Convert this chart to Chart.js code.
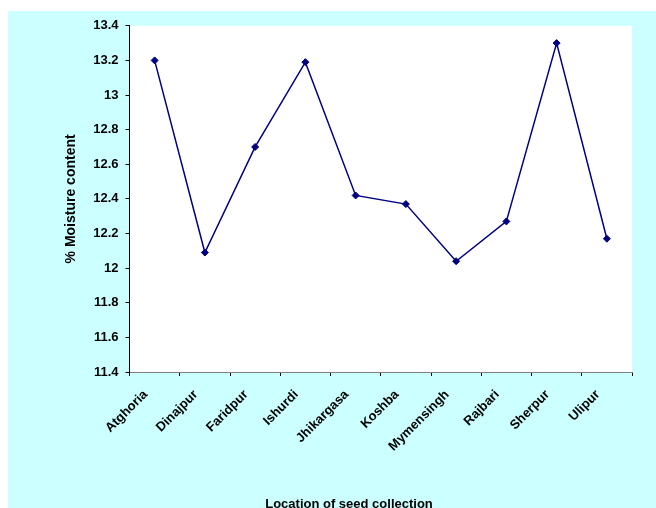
<!DOCTYPE html>
<html>
<head>
<meta charset="utf-8">
<title>% Moisture content by location of seed collection</title>
<script src="https://cdn.jsdelivr.net/npm/chart.js@4/dist/chart.umd.min.js"></script>
<style>
  html, body { margin: 0; padding: 0; background: #ffffff; }
  #frame {
    position: absolute;
    left: 8px;
    top: 11px;
    width: 648px;
    height: 497px;
    background: #ccffff;
    overflow: hidden;
  }
  #chart { display: block; }
</style>
</head>
<body>
<div id="frame"><canvas id="chart" width="648" height="497"></canvas></div>
<script>
// Seed collection sites and their moisture content (%)
const locations = ['Atghoria', 'Dinajpur', 'Faridpur', 'Ishurdi', 'Jhikargasa',
                   'Koshba', 'Mymensingh', 'Rajbari', 'Sherpur', 'Ulipur'];
const moisture = [13.2, 12.09, 12.7, 13.19, 12.42, 12.37, 12.04, 12.27, 13.3, 12.17];

// Value axis range and tick spacing
const yMin = 11.4;
const yMax = 13.4;
const yStep = 0.2;

const yTitle = '% Moisture content';
const xTitle = 'Location of seed collection';

const FONT = 'Arial, "Liberation Sans", Helvetica, sans-serif';

// White plot area behind the series
const plotBackground = {
  id: 'plotBackground',
  beforeDraw(chart) {
    const { ctx, chartArea: a } = chart;
    ctx.save();
    ctx.fillStyle = '#ffffff';
    ctx.fillRect(a.left, a.top, a.right - a.left, a.bottom - a.top);
    ctx.restore();
  }
};

// Category axis caption along the bottom edge
const bottomCaption = {
  id: 'bottomCaption',
  afterDraw(chart, args, opts) {
    const { ctx } = chart;
    ctx.save();
    ctx.font = 'bold 13px ' + FONT;
    ctx.fillStyle = '#000000';
    ctx.textAlign = 'center';
    ctx.textBaseline = 'alphabetic';
    ctx.fillText(opts.text, opts.x, opts.y);
    ctx.restore();
  }
};

new Chart(document.getElementById('chart'), {
  type: 'line',
  data: {
    labels: locations,
    datasets: [{
      data: moisture,
      borderColor: '#000080',
      backgroundColor: '#000080',
      borderWidth: 1.5,
      pointStyle: 'rectRot',
      pointRadius: 3.5,
      pointBorderWidth: 1,
      pointBackgroundColor: '#000080',
      pointBorderColor: '#000080',
      tension: 0,
      fill: false
    }]
  },
  options: {
    responsive: false,
    animation: false,
    devicePixelRatio: 1,
    layout: { padding: { left: 0, right: 24, top: 12, bottom: 0 } },
    plugins: {
      legend: { display: false },
      tooltip: { enabled: false },
      bottomCaption: { text: xTitle, x: 341, y: 497 }
    },
    scales: {
      x: {
        type: 'category',
        offset: true,
        grid: {
          offset: true,
          drawOnChartArea: false,
          drawTicks: true,
          tickLength: 4,
          color: '#000000'
        },
        border: { display: true, color: '#808080', width: 1 },
        ticks: {
          autoSkip: false,
          minRotation: 45,
          maxRotation: 45,
          padding: 11,
          labelOffset: -9,
          color: '#000000',
          font: { family: FONT, size: 13, weight: 'bold' }
        },
        afterFit(scale) { scale.height = 136; }
      },
      y: {
        type: 'linear',
        min: yMin,
        max: yMax,
        ticks: {
          stepSize: yStep,
          padding: 7,
          color: '#000000',
          font: { family: FONT, size: 13, weight: 'bold' },
          callback: (v) => String(Number(v.toFixed(1)))
        },
        grid: {
          drawOnChartArea: false,
          drawTicks: true,
          tickLength: 4,
          color: '#000000'
        },
        border: { display: true, color: '#000000', width: 1 },
        title: {
          display: true,
          text: yTitle,
          color: '#000000',
          padding: { top: 55, bottom: 0 },
          font: { family: FONT, size: 14, weight: 'bold' }
        },
        afterFit(scale) { scale.width = 121.5; }
      }
    }
  },
  plugins: [plotBackground, bottomCaption]
});
</script>
</body>
</html>
